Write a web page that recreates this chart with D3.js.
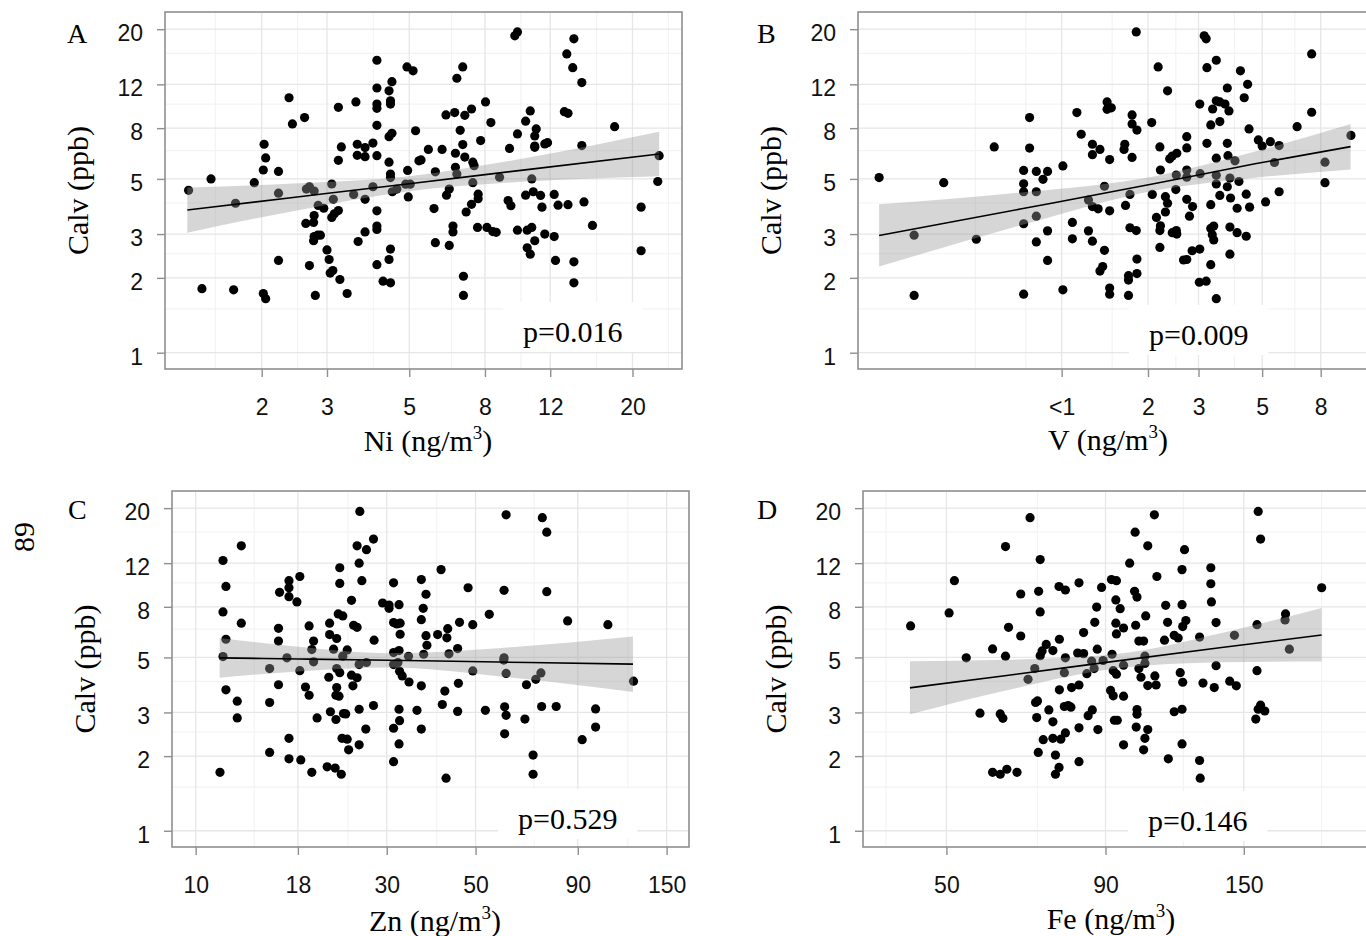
<!DOCTYPE html>
<html><head><meta charset="utf-8">
<script src="https://cdn.jsdelivr.net/npm/d3@7"></script>
<style>body{margin:0;background:#fff;} svg{display:block;}</style>
</head><body><svg id="c" width="1366" height="936"></svg>
<script>
// ---------- shared y axis (Calv, ppb) ----------
const calvDomain = [0.86, 23.45];
const calvTicks = [1, 2, 3, 5, 8, 12, 20];
const calvTickLabels = ["1", "2", "3", "5", "8", "12", "20"];
const calvMinor = [1.5, 2.5, 4, 6.5, 10, 16];

// ---------- Panel A : Ni ----------
const niTicks = [2, 3, 5, 8, 12, 20];
const niTickLabels = ["2", "3", "5", "8", "12", "20"];
const niMinor = [1.5, 2.5, 4, 6.5, 10, 16, 25];
const niCalv = [[1.27,4.50],[1.46,5.00],[1.38,1.81],[1.68,1.79],[1.70,3.99],[1.91,4.83],[2.02,1.73],[2.05,1.65],[2.03,6.89],[2.05,6.07],
[2.02,5.43],[2.22,5.36],[2.22,4.38],[2.22,2.35],[2.37,10.6],[2.42,8.32],[2.61,8.82],[2.64,4.55],[2.69,4.65],[2.77,4.47],
[2.63,3.31],[2.77,3.56],[2.76,3.34],[2.69,2.24],[2.79,1.70],[2.84,3.91],[2.94,3.81],[2.77,2.93],[2.83,2.97],[2.88,2.97],
[2.76,2.82],[3.09,4.77],[3.12,4.14],[3.09,3.50],[3.14,3.62],[3.22,3.73],[3.00,2.59],[3.04,2.37],[3.11,2.14],[3.06,2.09],
[3.25,1.97],[3.40,1.73],[3.22,9.70],[3.28,6.72],[3.22,5.94],[3.54,4.33],[3.59,10.2],[3.62,6.89],[3.62,6.22],[3.80,6.68],
[3.80,6.14],[3.80,4.14],[3.64,2.80],[3.80,3.06],[3.99,6.97],[3.99,4.65],[4.09,15.0],[4.09,11.6],[4.09,10.0],[4.09,9.61],
[4.09,8.21],[4.09,6.20],[4.09,3.72],[4.09,3.23],[4.09,3.13],[4.09,2.26],[4.25,1.94],[4.45,1.91],[4.41,11.3],[4.49,12.3],
[4.45,10.3],[4.45,10.0],[4.41,7.39],[4.49,7.63],[4.41,5.84],[4.45,5.23],[4.45,5.06],[4.50,4.44],[4.63,4.55],[4.45,2.61],
[4.41,2.37],[4.93,14.1],[5.12,13.6],[5.20,7.81],[4.95,5.41],[4.89,4.76],[5.03,4.76],[4.97,4.23],[5.31,5.91],[5.38,5.96],
[5.63,6.57],[5.88,5.34],[5.83,3.80],[5.88,2.77],[6.13,6.57],[6.28,9.04],[6.63,9.24],[6.41,4.55],[6.30,4.30],[6.41,2.70],
[6.56,3.23],[6.56,3.06],[6.72,12.7],[6.97,14.1],[6.86,7.84],[7.06,9.01],[7.36,9.55],[6.97,6.87],[6.66,6.34],[7.06,6.12],
[6.66,5.57],[6.72,5.23],[7.42,5.84],[7.48,5.65],[7.42,4.83],[7.67,4.34],[7.67,4.16],[7.36,3.95],[7.12,3.68],[7.79,7.13],
[8.03,10.2],[8.30,8.42],[7.64,3.19],[8.10,3.19],[8.40,3.07],[8.58,3.05],[7.00,2.03],[7.00,1.70],[8.76,5.08],[9.32,6.63],
[9.24,4.09],[9.40,3.90],[9.79,7.58],[9.63,18.8],[9.79,19.5],[10.3,8.53],[10.6,9.38],[10.3,4.30],[10.7,5.00],[10.8,4.44],
[11.3,4.29],[11.4,3.85],[10.9,7.44],[10.9,6.78],[11.0,7.94],[10.9,6.70],[11.6,6.91],[11.8,6.99],[9.79,3.11],[10.4,3.11],
[10.7,3.19],[10.9,2.82],[11.6,3.00],[10.4,2.64],[10.6,2.49],[12.3,4.33],[12.6,3.92],[13.4,3.94],[12.3,2.93],[12.4,2.35],
[13.1,9.32],[13.4,9.18],[13.3,15.9],[13.9,18.3],[13.8,14.0],[14.6,12.2],[14.6,6.81],[14.8,4.04],[15.6,3.25],[13.9,2.32],
[13.9,1.91],[17.9,8.11],[21.1,3.85],[21.1,2.57],[23.6,6.20],[23.4,4.88]];
const niFitX = [1.26, 2.43, 5.0, 10.4, 23.6];
const niFit = [3.75, 4.21, 4.78, 5.45, 6.30];
const niLo = [3.04, 3.71, 4.46, 4.88, 5.13];
const niHi = [4.62, 4.79, 5.13, 6.08, 7.73];

// ---------- Panel B : V ----------
const vTicks = [1, 2, 3, 5, 8];
const vTickLabels = ["<1", "2", "3", "5", "8"];
const vMinor = [0.5, 0.75, 1.5, 2.5, 4, 6.5];
const vCalv = [[0.231,5.06],[0.306,2.97],[0.306,1.70],[0.388,4.83],[0.504,2.86],[0.582,6.72],[0.737,5.41],[0.737,4.78],[0.737,4.44],[0.737,3.30],
[0.737,1.72],[0.773,8.82],[0.773,6.65],[0.816,5.36],[0.816,4.44],[0.816,3.54],[0.816,2.79],[0.861,4.98],[0.893,5.36],[0.893,3.09],
[0.893,2.35],[1.01,5.64],[1.01,1.79],[1.09,3.34],[1.09,2.87],[1.13,9.24],[1.17,7.56],[1.24,4.11],[1.24,3.09],[1.28,6.89],
[1.28,6.26],[1.28,3.87],[1.28,2.81],[1.34,3.79],[1.36,6.57],[1.41,4.67],[1.41,2.58],[1.39,2.22],[1.36,2.13],[1.44,10.2],
[1.44,9.52],[1.49,9.66],[1.47,5.98],[1.47,3.72],[1.47,1.82],[1.47,1.72],[1.66,6.89],[1.65,6.57],[1.67,3.91],[1.73,4.33],
[1.76,9.04],[1.76,8.32],[1.76,6.10],[1.73,3.18],[1.82,3.10],[1.83,7.86],[1.83,2.38],[1.82,19.5],[1.71,2.04],[1.71,1.96],
[1.83,2.08],[1.71,1.70],[2.06,8.42],[2.07,4.33],[2.17,14.1],[2.20,6.72],[2.21,5.43],[2.34,11.3],[2.38,6.02],[2.43,6.18],
[2.52,6.34],[2.51,5.18],[2.50,4.53],[2.30,4.24],[2.34,3.99],[2.30,3.68],[2.14,3.50],[2.21,3.24],[2.20,3.10],[2.43,3.04],
[2.52,3.00],[2.51,3.10],[2.20,2.65],[2.73,7.39],[2.73,6.66],[2.73,5.43],[2.73,5.08],[2.73,4.14],[2.86,3.87],[2.79,3.54],
[2.66,2.36],[2.73,2.37],[2.85,2.57],[3.03,2.61],[3.03,10.0],[3.04,5.25],[3.02,1.92],[3.19,1.94],[3.14,18.8],[3.19,18.3],
[3.21,14.0],[3.46,15.0],[3.21,6.95],[3.31,8.24],[3.56,8.50],[3.36,9.55],[3.46,10.3],[3.56,10.2],[3.71,10.0],[3.83,9.38],
[3.78,11.6],[3.46,6.06],[3.46,5.17],[3.46,4.77],[3.56,4.29],[3.31,3.94],[3.78,6.95],[3.80,6.20],[3.86,5.04],[3.78,4.65],
[3.88,4.19],[4.02,5.91],[4.15,4.88],[4.09,3.81],[3.86,3.20],[4.09,3.04],[4.40,4.34],[4.52,3.85],[4.40,2.94],[3.31,3.16],
[3.39,3.23],[3.35,2.98],[3.39,2.84],[3.31,2.26],[3.86,2.49],[3.46,1.65],[4.20,13.6],[4.45,12.0],[4.33,10.6],[4.50,7.94],
[4.85,7.17],[5.00,6.78],[5.34,7.06],[5.73,6.81],[5.52,5.82],[5.73,4.44],[5.14,4.04],[6.62,8.11],[7.44,15.9],[7.44,9.27],
[8.28,5.84],[8.28,4.83],[10.2,7.48]];
const vFitX = [0.231, 0.7255, 2.116, 4.722, 10.17];
const vFit = [2.96, 3.79, 4.79, 5.75, 6.74];
const vLo = [2.22, 3.26, 4.49, 5.05, 5.46];
const vHi = [3.95, 4.41, 5.13, 6.44, 8.32];

// ---------- Panel C : Zn ----------
const znTicks = [10, 18, 30, 50, 90, 150];
const znTickLabels = ["10", "18", "30", "50", "90", "150"];
const znMinor = [14, 24, 40, 70, 120];
const znCalv = [[11.5,1.72],[11.7,12.3],[11.9,9.67],[11.7,7.63],[11.9,5.92],[11.7,5.04],[11.9,3.70],[13.0,14.1],[13.0,6.87],[12.7,3.33],
[12.7,2.85],[15.3,4.51],[15.3,3.29],[15.3,2.07],[16.1,6.55],[16.1,5.82],[16.2,9.15],[17.1,10.2],[17.1,9.55],[17.1,8.79],
[16.9,4.98],[16.1,3.88],[17.1,2.36],[17.1,1.95],[17.9,8.37],[18.2,10.6],[18.2,4.42],[18.3,1.93],[18.8,3.80],[19.2,6.70],
[19.2,3.52],[19.7,5.82],[19.5,5.38],[19.7,4.80],[20.1,2.85],[19.5,1.72],[21.6,6.87],[21.6,6.18],[22.5,5.96],[22.1,5.40],
[21.5,4.16],[22.5,4.51],[22.9,4.34],[22.5,3.78],[22.4,3.52],[22.8,3.49],[21.7,3.02],[22.4,2.81],[23.4,2.97],[23.7,2.96],
[23.2,2.36],[23.9,2.34],[24.1,2.12],[21.3,1.81],[22.3,1.79],[23.1,1.69],[22.9,11.5],[22.9,9.94],[22.7,7.49],[23.3,7.35],
[23.9,5.36],[23.3,5.06],[24.5,8.50],[24.8,6.74],[25.3,6.61],[24.5,4.24],[25.3,4.14],[24.7,3.84],[25.6,4.68],[26.7,4.77],
[25.7,19.4],[25.3,14.1],[26.7,13.6],[27.8,15.0],[25.6,12.0],[26.0,10.2],[25.6,3.09],[26.6,2.57],[25.6,2.22],[27.8,3.20],
[27.9,5.87],[29.3,8.29],[30.4,7.89],[30.4,8.13],[31.2,10.0],[32.2,8.16],[31.2,6.91],[31.8,6.82],[32.4,6.87],[32.4,6.20],
[31.2,5.23],[32.2,5.33],[31.2,4.68],[32.0,4.77],[32.3,4.40],[32.8,4.21],[34.0,5.05],[34.1,3.98],[32.2,3.09],[32.3,2.78],
[31.2,2.59],[32.2,2.24],[31.2,1.90],[35.7,3.06],[36.6,10.3],[37.6,8.99],[37.0,7.89],[36.6,7.10],[37.6,6.12],[37.8,5.60],
[37.1,5.15],[36.6,3.84],[36.6,2.57],[41.0,11.3],[40.2,6.18],[42.6,6.53],[42.4,6.00],[42.9,5.17],[41.9,3.66],[41.3,3.23],
[42.2,1.63],[45.1,5.43],[45.6,6.93],[47.9,9.55],[49.2,6.78],[49.2,4.41],[45.3,3.93],[45.1,3.03],[52.9,3.06],[54.1,7.46],
[58.9,9.32],[58.9,4.98],[58.8,4.88],[59.6,4.31],[59.1,3.16],[59.6,2.92],[59.1,2.46],[59.6,18.8],[66.4,2.82],[67.0,3.88],
[69.6,2.02],[69.6,1.69],[70.7,4.08],[72.8,4.33],[73.1,3.17],[73.4,18.3],[75.3,16.0],[75.3,9.21],[79.5,3.17],[84.9,7.02],
[92.3,2.33],[99.7,3.10],[99.7,2.62],[107,6.78],[124,4.01]];
const znFitX = [11.48, 18.02, 30.4, 56.95, 123.6];
const znFit = [4.98, 4.93, 4.87, 4.79, 4.70];
const znLo = [4.14, 4.39, 4.55, 4.20, 3.63];
const znHi = [5.99, 5.52, 5.20, 5.45, 6.07];

// ---------- Panel D : Fe ----------
const feTicks = [50, 90, 150];
const feTickLabels = ["50", "90", "150"];
const feMinor = [40, 70, 120, 200];
const feCalv = [[43.8,6.70],[50.5,7.56],[51.5,10.2],[53.8,4.98],[56.6,2.98],[59.3,5.41],[59.3,1.72],[61.0,2.96],[61.6,2.84],[61.0,1.69],
[62.2,14.0],[62.2,5.06],[62.9,6.61],[62.5,1.77],[64.9,1.72],[65.8,9.01],[65.8,6.10],[67.6,4.08],[68.1,18.3],[69.3,4.51],
[69.5,3.29],[70.0,3.34],[69.8,2.86],[70.2,2.07],[70.3,9.24],[70.7,12.4],[70.7,7.63],[70.7,5.08],[71.2,5.31],[71.5,2.33],
[72.3,5.64],[73.0,3.07],[74.1,5.33],[74.1,2.75],[74.1,2.36],[74.8,2.02],[75.8,1.80],[74.8,1.69],[75.9,5.92],[75.9,3.70],
[75.8,9.66],[77.6,9.35],[76.3,2.34],[77.6,2.48],[77.3,4.34],[77.6,4.98],[77.3,3.17],[78.4,3.20],[79.4,3.78],[79.2,3.15],
[81.2,5.21],[81.6,3.87],[81.6,10.0],[83.0,5.18],[83.0,6.30],[81.6,2.60],[81.6,1.90],[84.0,4.30],[84.4,2.91],[85.5,4.83],
[85.7,3.07],[86.3,4.51],[87.1,7.98],[86.5,6.93],[87.3,5.40],[87.5,2.56],[88.7,9.58],[89.2,4.86],[92.0,10.3],[93.7,10.2],
[93.5,8.53],[95.0,7.86],[93.5,6.87],[96.2,6.57],[93.7,6.22],[92.2,5.15],[92.6,4.42],[93.7,4.28],[91.7,3.68],[92.6,3.50],
[96.2,3.49],[93.0,2.79],[94.0,2.79],[96.2,4.65],[96.2,2.22],[98.4,12.0],[100.4,16.0],[100.2,9.24],[101.1,8.76],[104.4,7.35],
[100.6,6.74],[101.8,5.82],[103.6,5.82],[101.8,4.51],[102.6,4.16],[104.1,5.06],[104.1,4.73],[105.2,3.85],[108.0,4.21],[108.5,3.87],
[101.1,3.08],[101.1,2.95],[100.8,2.62],[105.2,2.56],[104.1,2.36],[103.6,2.12],[105.2,14.1],[107.8,18.8],[108.8,10.6],[112.4,8.11],
[113.2,6.93],[111.9,5.87],[116.0,6.14],[117.7,5.99],[118.6,4.34],[119.7,3.97],[116.0,3.02],[119.4,3.09],[113.5,1.95],[119.4,2.24],
[119.4,11.3],[120.5,13.6],[119.4,8.16],[121.1,7.04],[119.7,6.66],[127.4,6.04],[127.4,1.92],[127.7,1.63],[129.0,3.94],[132.8,11.5],
[132.8,9.91],[133.1,8.37],[135.4,6.91],[135.4,4.63],[134.5,3.78],[142.4,4.01],[145.9,3.84],[144.9,6.14],[157.5,6.78],[157.5,4.42],
[158.2,19.4],[159.6,15.0],[159.6,3.21],[162.1,3.04],[158.2,3.09],[156.8,2.82],[175.0,7.49],[174.7,7.08],[177.5,5.40],[200,9.55]];
const feFitX = [43.7, 62.04, 93.5, 138.2, 200];
const feFit = [3.77, 4.22, 4.83, 5.48, 6.16];
const feLo = [2.95, 3.67, 4.51, 4.78, 4.82];
const feHi = [4.83, 4.89, 5.16, 6.28, 7.92];

// ---------- layout ----------
const panels = [
  {id:"A", left:165, top:12, w:517, h:357, xDomain:[1.097,27.2], ticks:niTicks, labels:niTickLabels, minor:niMinor,
   pts:niCalv, fx:niFitX, fy:niFit, flo:niLo, fhi:niHi, xName:"Ni", titleX:428, titleY:451,
   p:"p=0.016", px:523, py:342, letterX:67, letterY:43},
  {id:"B", left:858, top:12, w:517, h:357, xDomain:[0.195,12.37], ticks:vTicks, labels:vTickLabels, minor:vMinor,
   pts:vCalv, fx:vFitX, fy:vFit, flo:vLo, fhi:vHi, xName:"V", titleX:1108, titleY:450,
   p:"p=0.009", px:1149, py:345, letterX:757, letterY:43},
  {id:"C", left:172, top:491, w:517, h:356, xDomain:[8.727,170.6], ticks:znTicks, labels:znTickLabels, minor:znMinor,
   pts:znCalv, fx:znFitX, fy:znFit, flo:znLo, fhi:znHi, xName:"Zn", titleX:435, titleY:931,
   p:"p=0.529", px:518, py:829, letterX:68, letterY:519},
  {id:"D", left:863, top:491, w:517, h:356, xDomain:[36.74,248.1], ticks:feTicks, labels:feTickLabels, minor:feMinor,
   pts:feCalv, fx:feFitX, fy:feFit, flo:feLo, fhi:feHi, xName:"Fe", titleX:1111, titleY:929,
   p:"p=0.146", px:1148, py:831, letterX:757, letterY:519}
];

const svg = d3.select("#c");
const serif = "'Liberation Serif','Times New Roman',serif";
const sans = "'Liberation Sans',Arial,sans-serif";

function drawPanel(c){
  const x = d3.scaleLog().domain(c.xDomain).range([c.left, c.left + c.w]);
  const y = d3.scaleLog().domain(calvDomain).range([c.top + c.h, c.top]);
  const g = svg.append("g");
  svg.append("clipPath").attr("id","clip"+c.id).append("rect")
    .attr("x",c.left).attr("y",c.top).attr("width",c.w).attr("height",c.h);
  const inner = g.append("g").attr("clip-path",`url(#clip${c.id})`);
  const [xa,xb] = c.xDomain;
  // minor grid
  inner.selectAll(".xm").data(c.minor.filter(d=>d>xa&&d<xb)).join("line")
    .attr("x1",d=>x(d)).attr("x2",d=>x(d)).attr("y1",c.top).attr("y2",c.top+c.h)
    .attr("stroke","#f3f3f3").attr("stroke-width",1.2);
  inner.selectAll(".ym").data(calvMinor).join("line")
    .attr("y1",d=>y(d)).attr("y2",d=>y(d)).attr("x1",c.left).attr("x2",c.left+c.w)
    .attr("stroke","#f3f3f3").attr("stroke-width",1.2);
  // major grid
  inner.selectAll(".xg").data(c.ticks).join("line")
    .attr("x1",d=>x(d)).attr("x2",d=>x(d)).attr("y1",c.top).attr("y2",c.top+c.h)
    .attr("stroke","#e6e6e6").attr("stroke-width",1.3);
  inner.selectAll(".yg").data(calvTicks).join("line")
    .attr("y1",d=>y(d)).attr("y2",d=>y(d)).attr("x1",c.left).attr("x2",c.left+c.w)
    .attr("stroke","#e6e6e6").attr("stroke-width",1.3);
  // p-value label with white background
  const pg = g.append("g");
  const box = pg.append("rect").attr("fill","#fff");
  const pt = pg.append("text").attr("x",c.px).attr("y",c.py)
    .attr("font-family",serif).attr("font-size",30).attr("fill","#000").text(c.p);
  const bb = pt.node().getBBox();
  box.attr("x",bb.x-20).attr("y",c.py-40).attr("width",bb.width+40).attr("height",50);
  // points
  inner.selectAll(".pt").data(c.pts).join("circle")
    .attr("cx",d=>x(d[0])).attr("cy",d=>y(d[1])).attr("r",4.6).attr("fill","#000");
  // ribbon
  const band = c.fx.map((v,i)=>({x:v, lo:c.flo[i], hi:c.fhi[i], f:c.fy[i]}));
  inner.append("path").datum(band)
    .attr("d", d3.area().x(d=>x(d.x)).y0(d=>y(d.lo)).y1(d=>y(d.hi)).curve(d3.curveMonotoneX))
    .attr("fill","#999999").attr("fill-opacity",0.4);
  inner.append("path").datum(band)
    .attr("d", d3.line().x(d=>x(d.x)).y(d=>y(d.f)).curve(d3.curveMonotoneX))
    .attr("fill","none").attr("stroke","#000").attr("stroke-width",1.6);
  // border
  g.append("rect").attr("x",c.left).attr("y",c.top).attr("width",c.w).attr("height",c.h)
    .attr("fill","none").attr("stroke","#8f8f8f").attr("stroke-width",1.6);
  // axes
  const ax = g.append("g").attr("transform",`translate(0,${c.top+c.h})`)
    .call(d3.axisBottom(x).tickValues(c.ticks).tickFormat((d,i)=>c.labels[i]).tickSize(8).tickPadding(22));
  const ay = g.append("g").attr("transform",`translate(${c.left},0)`)
    .call(d3.axisLeft(y).tickValues(calvTicks).tickFormat((d,i)=>calvTickLabels[i]).tickSize(8).tickPadding(14));
  [ax,ay].forEach(a=>{
    a.select(".domain").remove();
    a.selectAll(".tick line").attr("stroke","#8f8f8f").attr("stroke-width",1.4);
    a.selectAll(".tick text").attr("font-family",sans).attr("font-size",23).attr("fill","#111");
  });
  ay.selectAll(".tick text").attr("dy","0.5em");
  // x title
  const t = g.append("text").attr("x",c.titleX).attr("y",c.titleY).attr("text-anchor","middle")
    .attr("font-family",serif).attr("font-size",30).attr("fill","#000");
  t.append("tspan").text(c.xName + " (ng/m");
  t.append("tspan").attr("font-size",19).attr("dy",-12).text("3");
  t.append("tspan").attr("dy",12).text(")");
  // y title
  g.append("text").attr("transform",`translate(${c.left-77},${c.top+c.h/2}) rotate(-90)`)
    .attr("text-anchor","middle").attr("font-family",serif).attr("font-size",30).attr("fill","#000")
    .text("Calv (ppb)");
  // panel letter
  g.append("text").attr("x",c.letterX).attr("y",c.letterY).attr("font-family",serif)
    .attr("font-size",28).attr("fill","#000").text(c.id);
}
panels.forEach(drawPanel);

// page number
svg.append("text").attr("transform","translate(23,537) rotate(-90)")
  .attr("text-anchor","middle").attr("dominant-baseline","central")
  .attr("font-family",serif).attr("font-size",30).attr("fill","#000").text("89");
</script>
</body></html>
